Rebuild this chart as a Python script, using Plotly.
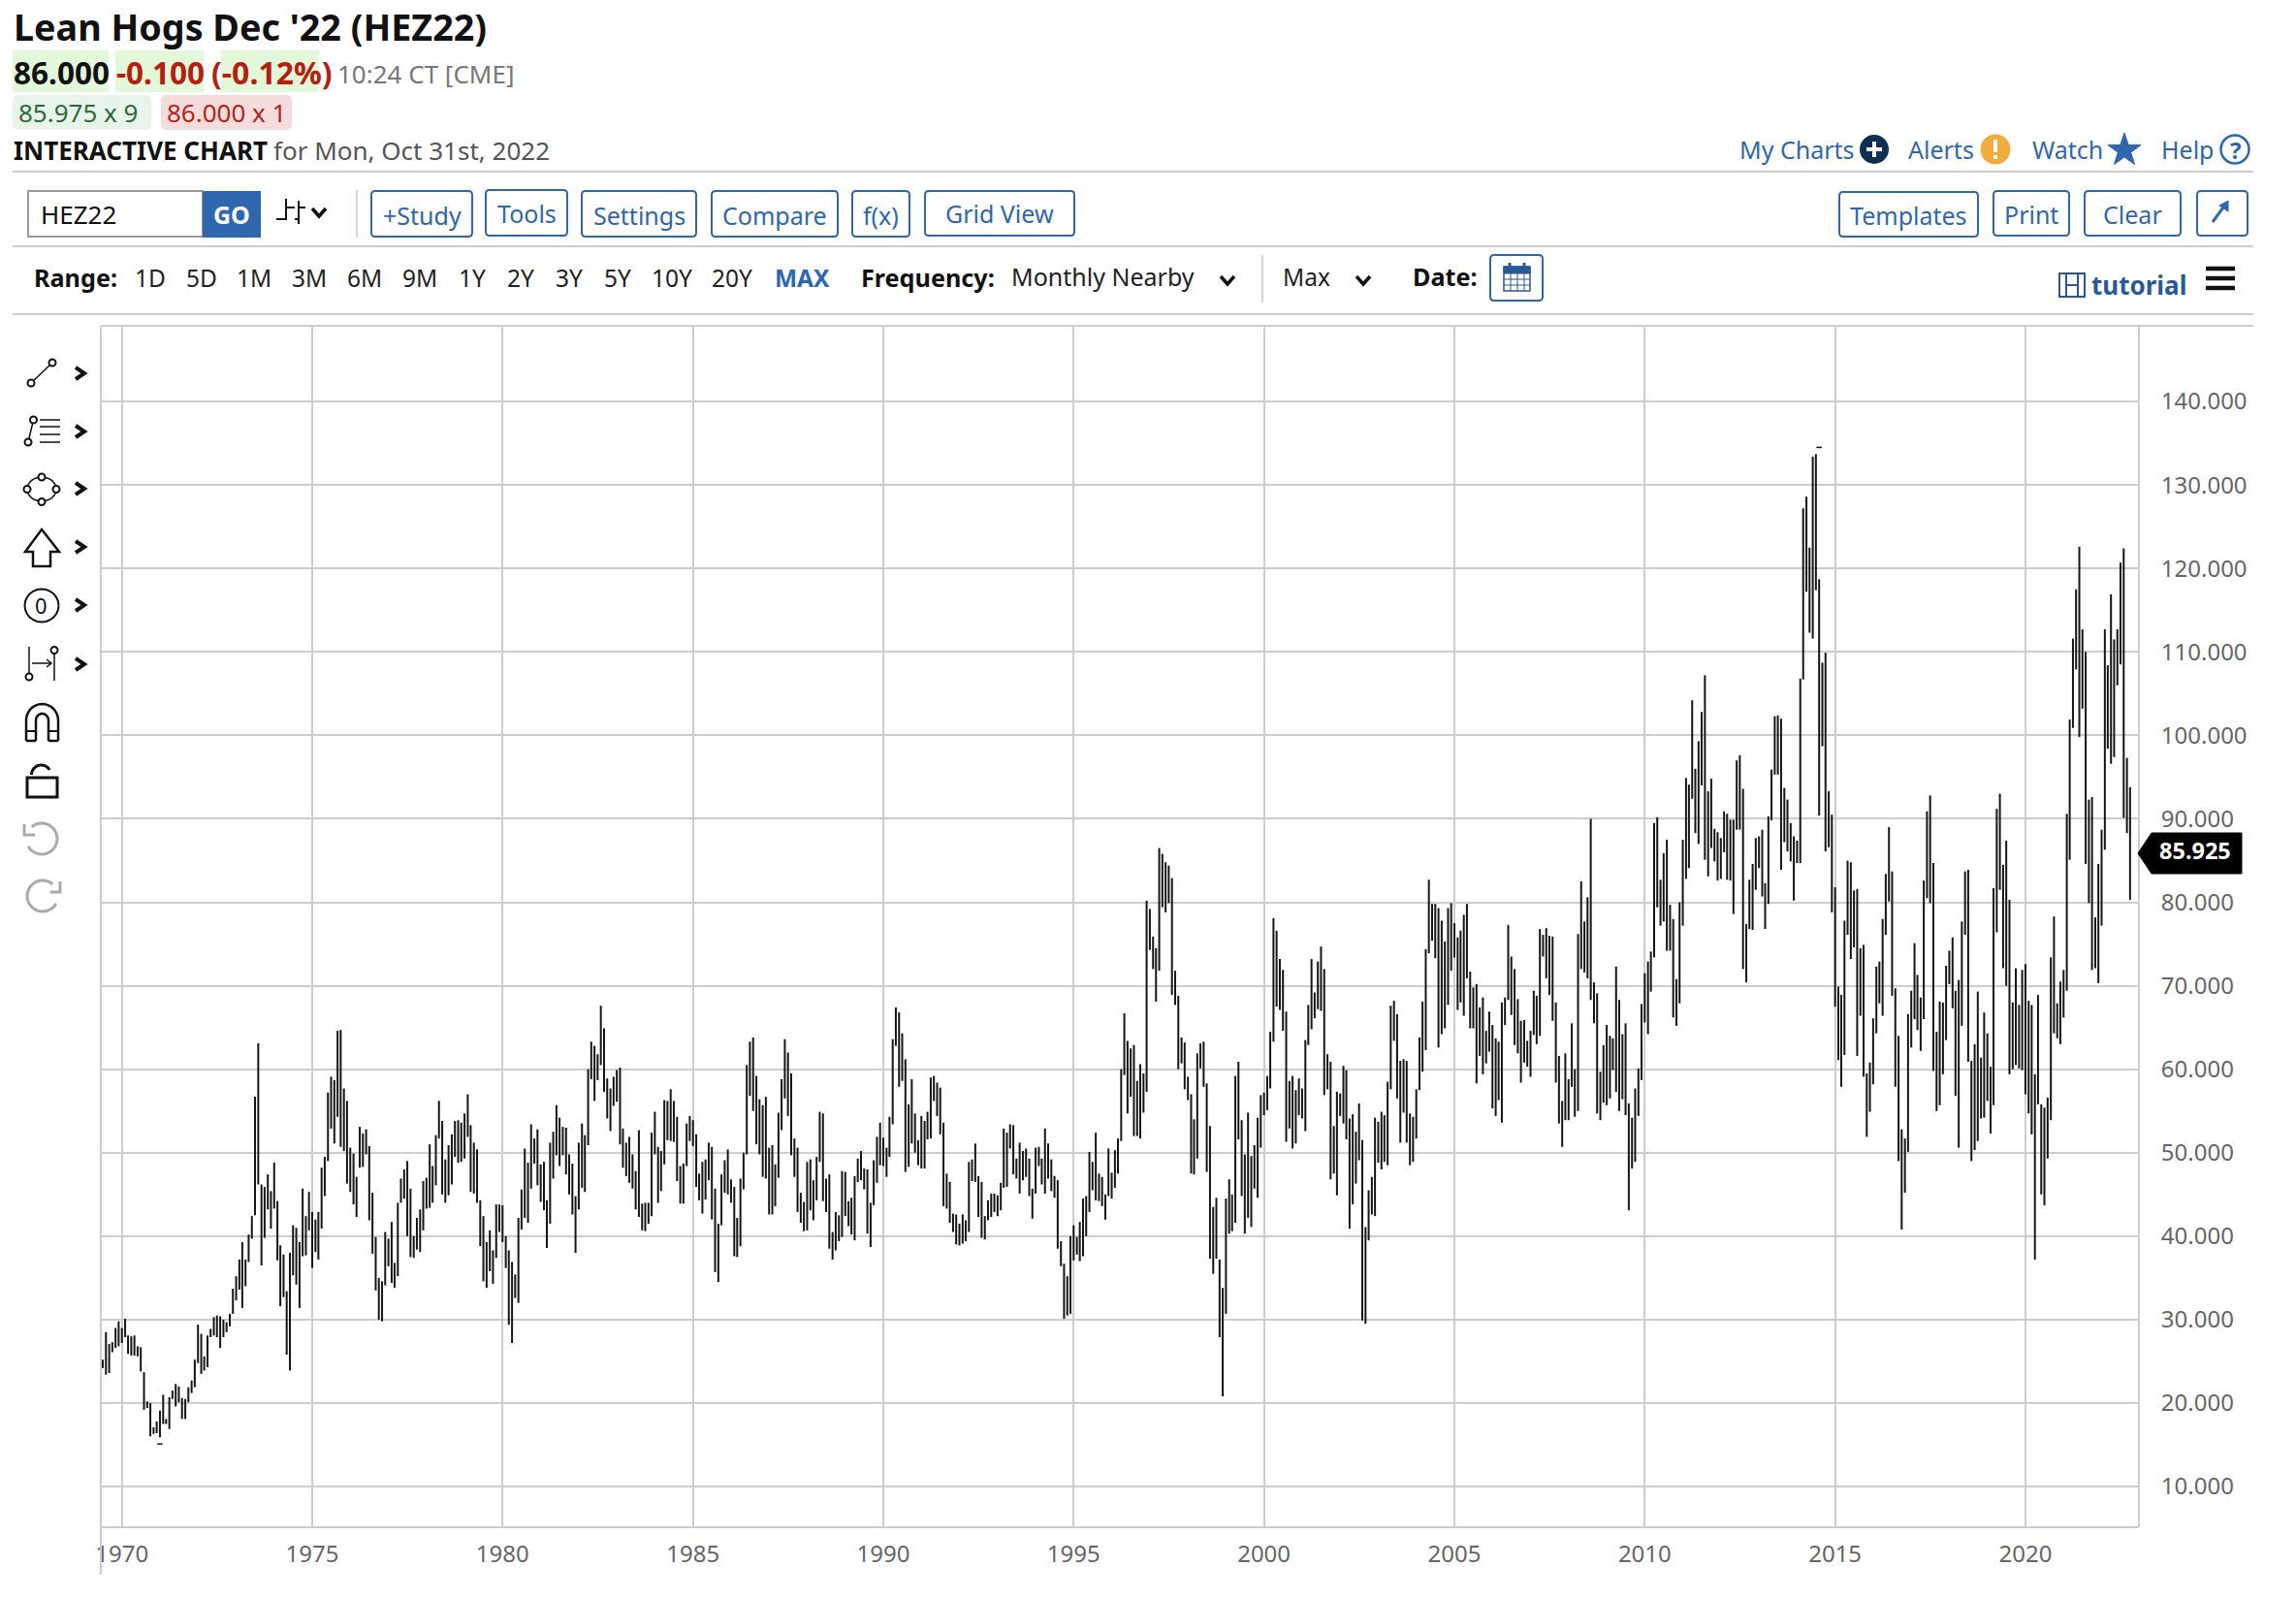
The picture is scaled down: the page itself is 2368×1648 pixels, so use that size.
import math

import pandas as pd
import plotly.graph_objects as go

# monthly high / low, one pair of lists per stretch of years
START_1969 = "1969-07-01"
HIGH_1969 = [
    25.2, 28.5, 27.1, 27.3, 29.0, 29.8, 29.0, 30.1, 28.1, 28.0, 28.1, 26.8, 26.7, 23.7, 20.2, 20.0, 17.1, 17.8,
    19.1, 21.0, 18.1, 20.7, 21.5, 22.3, 22.0, 20.6, 20.5, 21.9, 22.7, 25.2, 29.4, 28.3, 25.6, 28.1, 28.9, 30.3,
    30.5, 30.4, 30.0, 29.7, 30.7, 33.7, 35.2, 37.2, 39.3, 37.2, 40.2, 42.4, 56.7, 63.1, 46.2, 45.9, 47.4, 45.4,
    48.8, 44.2, 38.9, 37.8, 33.4, 38.0, 41.3, 41.0, 39.3, 45.7, 42.4, 45.3, 42.9, 42.0, 42.9, 48.2, 49.5, 57.2,
    59.1, 58.7, 64.6, 64.7, 57.7, 56.2, 50.6, 49.9, 47.1, 53.1, 52.3, 52.8, 50.8, 45.2, 39.9, 35.0, 34.6, 40.5,
    39.7, 41.7, 36.8, 44.0, 46.9, 48.0, 49.0, 45.7, 40.0, 42.2, 43.2, 46.6, 47.0, 51.0, 48.4, 52.1, 56.2,
]
LOW_1969 = [
    24.2, 23.4, 23.6, 26.1, 26.6, 26.8, 27.2, 27.9, 25.9, 25.7, 25.7, 25.6, 23.8, 19.2, 19.4, 16.0, 16.3, 16.4,
    15.9, 17.5, 17.5, 16.9, 20.5, 19.6, 20.1, 18.1, 18.1, 20.1, 21.2, 21.9, 24.8, 23.5, 23.9, 24.3, 27.9, 28.1,
    27.9, 26.6, 27.9, 28.5, 29.2, 30.7, 32.3, 33.6, 31.4, 34.0, 36.9, 39.7, 42.5, 46.2, 36.5, 39.8, 43.2, 40.9,
    43.3, 37.1, 31.6, 32.7, 25.8, 23.9, 35.3, 34.2, 31.4, 37.6, 37.7, 40.7, 36.2, 38.1, 37.2, 40.9, 44.8, 49.0,
    52.9, 51.1, 54.3, 50.7, 50.2, 46.3, 45.3, 43.8, 42.3, 48.2, 48.3, 49.8, 41.9, 37.9, 33.5, 30.0, 29.8, 34.1,
    36.4, 34.4, 33.8, 35.2, 44.0, 44.5, 40.0, 37.5, 37.4, 38.4, 38.1, 40.7, 43.3, 43.4, 44.0, 46.1, 51.7,
]

START_1978 = "1978-06-01"
HIGH_1978 = [
    53.8, 49.2, 50.9, 52.2, 53.8, 53.9, 53.6, 54.7, 57.0, 53.3, 51.2, 50.4, 44.3, 42.4, 39.3, 40.7, 38.3, 43.8,
    43.8, 43.7, 40.0, 38.3, 36.9, 35.4, 42.2, 45.6, 50.5, 48.8, 53.4, 51.7, 52.8, 48.6, 48.9, 44.3, 51.2, 52.5,
    55.7, 54.2, 53.1, 53.0, 49.8, 48.7, 44.8, 51.2, 53.5, 52.1, 60.0, 63.3, 62.8, 61.8, 67.6, 64.9, 58.9, 57.7,
    59.1, 59.9, 60.2, 52.9, 51.2, 51.9, 49.8, 47.8, 52.7, 43.9, 44.0, 44.0, 52.4, 54.9, 50.7, 50.2, 56.3, 56.2,
    57.6, 56.2, 54.3, 48.4, 48.7, 53.5, 54.4, 53.9, 52.2, 47.5, 48.9, 49.2, 51.2, 50.7, 45.7, 41.5, 47.4, 49.1,
    50.4, 46.8, 45.9, 42.2, 46.9, 50.0, 60.5, 63.3, 63.8, 59.2, 56.4, 55.7, 56.7, 50.6, 50.9, 48.6,
]
LOW_1978 = [
    45.0, 44.0, 44.9, 46.2, 49.5, 48.8, 48.9, 49.3, 51.9, 45.3, 45.1, 44.0, 38.8, 34.6, 33.8, 35.8, 34.3, 37.4,
    40.5, 39.3, 36.2, 29.4, 27.2, 32.6, 32.0, 40.8, 42.2, 41.6, 45.7, 48.7, 46.1, 44.1, 43.1, 38.6, 41.5, 46.9,
    49.7, 48.4, 49.7, 47.4, 45.0, 42.6, 38.0, 43.2, 45.8, 45.3, 50.9, 58.8, 56.2, 58.7, 60.5, 57.3, 54.1, 52.6,
    55.6, 56.1, 51.0, 48.2, 47.2, 46.4, 45.7, 43.2, 42.3, 40.7, 40.6, 41.5, 42.4, 49.8, 44.0, 45.4, 48.6, 51.5,
    51.4, 51.3, 46.6, 43.9, 43.9, 48.4, 51.4, 50.8, 45.9, 44.3, 42.7, 44.4, 46.7, 42.0, 35.7, 34.5, 41.3, 45.2,
    45.0, 44.0, 37.6, 37.5, 38.8, 45.6, 49.8, 56.8, 55.0, 51.0, 49.8, 47.1, 46.9, 42.6, 42.6, 43.6,
]

START_1987 = "1987-04-01"
HIGH_1987 = [
    54.8, 58.8, 63.6, 62.0, 59.5, 51.7, 50.6, 45.2, 44.1, 48.9, 49.2, 46.7, 49.5, 54.9, 54.7, 46.9, 47.4, 40.5,
    42.9, 42.5, 47.8, 47.7, 44.2, 44.6, 47.2, 49.3, 50.2, 48.1, 48.0, 44.0, 49.1, 51.9, 53.6, 51.8, 50.6, 54.3,
    63.6, 67.4, 66.8, 64.3, 61.2, 55.8, 58.8, 54.7, 51.5, 54.4, 53.8, 54.9, 59.0, 59.2, 58.4, 57.8, 53.6, 47.5,
    46.5, 42.7, 42.6, 41.5, 42.6, 41.9, 48.9, 49.2, 51.1, 47.2, 46.5, 42.4, 44.3, 45.1, 45.1, 44.9, 46.4, 52.9,
    52.4, 53.4, 53.3, 49.3, 51.2, 50.2, 50.5, 49.3, 45.7, 50.6, 50.7, 49.3, 52.9, 51.1, 49.2, 47.2, 46.7, 39.4,
    36.7, 35.2, 40.0, 41.3, 39.9, 41.7, 44.5, 44.8, 50.1, 48.9, 52.4, 47.5, 47.1, 45.0, 50.5,
]
LOW_1987 = [
    47.0, 52.7, 56.5, 54.4, 49.7, 47.1, 42.9, 41.6, 40.6, 40.7, 43.1, 41.9, 44.3, 48.9, 44.2, 42.9, 38.5, 37.2,
    38.3, 39.4, 39.9, 42.4, 41.2, 40.2, 39.5, 46.5, 46.7, 45.6, 40.3, 38.7, 43.7, 46.4, 48.5, 48.4, 47.1, 49.5,
    53.4, 62.8, 57.9, 58.6, 47.7, 48.3, 51.1, 50.0, 48.5, 48.1, 48.1, 51.6, 51.7, 56.2, 54.4, 52.2, 43.6, 43.3,
    41.6, 40.5, 39.0, 38.9, 39.1, 39.4, 40.5, 46.6, 46.5, 42.3, 39.8, 39.6, 41.9, 42.3, 42.9, 42.4, 43.1, 45.8,
    45.9, 50.5, 47.4, 46.9, 45.1, 46.7, 47.1, 44.8, 42.1, 45.1, 48.4, 46.2, 45.1, 46.9, 45.4, 44.6, 38.5, 36.4,
    30.1, 30.5, 30.7, 37.1, 37.8, 37.0, 37.6, 40.0, 42.9, 45.5, 44.3, 44.2, 43.6, 42.0, 44.8,
]

START_1996 = "1996-01-01"
HIGH_1996 = [
    47.6, 50.3, 51.7, 60.0, 66.7, 63.4, 62.5, 62.9, 58.6, 60.6, 59.5, 80.2, 79.2, 75.9, 74.5, 86.5, 85.8, 84.8,
    84.4, 82.9, 71.8, 68.8, 63.8, 63.2, 59.1, 57.0, 54.0, 61.9, 63.1, 63.3, 58.3, 53.2, 43.5, 44.6, 37.2, 33.8,
    44.5, 46.8, 45.0, 59.2, 60.9, 53.9, 49.8, 54.8, 49.6, 50.9, 54.2, 56.9, 57.2, 59.2, 64.5, 78.1, 76.6, 73.2,
    71.9, 66.9, 58.6, 59.2, 57.5, 58.9, 57.7, 63.5, 67.7, 73.2, 69.2, 72.9, 74.7, 72.0, 61.8, 60.9, 53.2, 57.3,
    57.1, 60.4, 59.9, 54.1, 54.6, 52.5, 55.9, 51.5, 41.1, 45.5, 47.1, 54.2, 53.7, 54.9, 54.5, 58.5, 67.6, 68.2,
    66.6, 61.0, 61.2, 61.0, 54.7, 54.3, 57.6, 63.8, 68.1, 74.4, 82.7, 79.8, 79.8, 79.3, 77.8, 75.3,
]
LOW_1996 = [
    44.5, 45.8, 47.5, 51.4, 59.3, 54.7, 56.7, 52.0, 52.0, 51.7, 54.8, 57.3, 74.3, 72.0, 68.1, 71.8, 79.4, 78.8,
    79.9, 68.9, 67.7, 60.0, 60.7, 57.6, 56.3, 47.5, 47.4, 49.3, 60.1, 57.9, 47.7, 37.3, 35.5, 37.3, 27.9, 20.8,
    30.7, 40.3, 40.6, 41.6, 51.6, 44.8, 40.3, 42.2, 41.1, 45.7, 44.6, 50.6, 54.5, 55.1, 57.7, 63.3, 67.5, 67.1,
    64.6, 51.3, 52.9, 50.5, 51.1, 54.5, 54.1, 52.6, 62.9, 64.8, 66.1, 67.2, 67.0, 56.9, 57.6, 46.8, 47.5, 44.9,
    54.4, 53.5, 51.6, 40.9, 43.8, 46.3, 49.1, 29.9, 29.5, 39.5, 42.6, 42.4, 48.8, 48.0, 48.9, 48.5, 57.6, 63.4,
    56.5, 51.2, 54.8, 51.2, 48.5, 48.9, 51.7, 57.5, 59.7, 62.3, 73.9, 75.4, 73.3, 62.6, 64.2, 64.9,
]

START_2004 = "2004-11-01"
HIGH_2004 = [
    79.3, 79.9, 77.5, 75.8, 76.6, 78.5, 79.8, 71.7, 69.8, 70.2, 67.4, 68.6, 64.6, 66.9, 65.3, 63.7, 63.3, 68.0,
    68.6, 77.3, 73.5, 72.0, 68.4, 65.8, 65.9, 63.4, 64.6, 69.4, 68.8, 76.8, 76.1, 76.9, 76.0, 75.9, 68.0, 61.6,
    56.2, 61.9, 58.8, 65.5, 60.0, 76.2, 82.5, 77.7, 80.6, 90.0, 70.4, 69.1, 59.7, 62.9, 65.3, 64.0, 63.7, 72.3,
    68.3, 64.2, 65.5, 55.9, 54.2, 57.7, 60.1, 67.8, 71.5, 72.9, 74.1, 89.5, 90.2, 82.7, 85.9, 87.5, 79.7, 78.0,
    70.8, 80.0, 87.5, 94.9, 94.1, 104.2, 96.0, 99.3, 102.8, 107.2, 93.3, 94.8, 88.8, 88.4, 87.7, 90.9, 90.6, 89.9,
    89.9, 97.0, 97.6, 93.6, 77.4, 82.7, 84.6, 87.7, 87.9, 88.7, 82.3, 90.3, 95.9, 102.3, 102.4,
]
LOW_2004 = [
    67.7, 71.8, 73.4, 67.1, 68.0, 66.4, 70.9, 64.9, 64.9, 58.3, 61.6, 59.4, 60.7, 62.1, 55.3, 54.4, 56.3, 53.6,
    65.3, 68.3, 66.5, 62.9, 61.9, 58.4, 60.8, 60.3, 59.1, 64.1, 63.0, 64.0, 73.5, 70.9, 68.9, 65.8, 58.4, 53.5,
    50.7, 53.9, 53.9, 57.9, 54.3, 55.0, 72.0, 71.6, 70.9, 68.3, 65.5, 54.7, 53.9, 56.0, 55.7, 56.5, 59.9, 57.3,
    55.0, 56.4, 54.5, 43.1, 48.1, 48.9, 54.4, 58.7, 65.6, 64.2, 69.3, 73.4, 79.4, 77.2, 77.7, 74.2, 74.2, 66.2,
    65.2, 67.9, 77.2, 82.8, 84.1, 92.4, 88.3, 87.0, 94.0, 85.1, 83.1, 86.5, 84.9, 82.6, 82.8, 86.0, 82.7, 82.6,
    78.6, 88.7, 88.7, 72.0, 70.4, 76.8, 76.7, 81.5, 84.1, 80.7, 76.8, 79.8, 89.8, 95.3, 95.3,
]

START_2013 = "2013-08-01"
HIGH_2013 = [
    102.0, 93.7, 92.3, 89.5, 87.9, 87.4, 106.8, 127.2, 128.6, 122.5, 133.4, 133.7, 118.7, 108.7, 109.9, 93.3, 90.5,
    81.8, 69.9, 68.9, 77.8, 85.0, 84.8, 81.4, 81.6, 74.5, 74.9, 59.5, 60.8, 66.1, 72.3, 72.9, 78.0, 83.4, 89.0, 83.7,
    69.7, 64.0, 52.8, 51.7, 66.6, 69.4, 75.1, 71.3, 68.6, 82.6, 90.9, 92.8, 84.7, 64.5, 68.1, 68.0, 72.4, 74.2, 75.8,
    69.4, 70.7, 77.7, 83.7, 83.9, 61.0, 63.0, 69.3, 61.4, 66.8, 64.3, 60.3, 81.7, 91.2, 93.0, 84.5, 87.4, 80.3, 68.0,
    72.1, 67.7, 71.9, 72.6, 68.2, 67.7, 59.4, 68.9, 55.8, 55.4, 56.6, 73.4, 78.3, 67.9, 70.5, 71.9, 90.6, 101.9, 111.6,
    117.5, 122.6, 112.7, 110.0, 92.3, 92.6, 78.2, 84.6, 88.7, 112.7, 108.4, 116.9, 111.5, 112.7, 120.7, 122.4, 97.3,
    93.8,
]
LOW_2013 = [
    83.9, 87.2, 86.1, 84.9, 80.2, 84.7, 84.7, 106.7, 117.2, 112.3, 111.6, 117.4, 90.4, 98.7, 86.1, 86.6, 78.8,
    67.5, 61.1, 57.9, 61.7, 76.1, 73.2, 74.6, 61.6, 66.4, 59.1, 51.9, 54.9, 58.2, 64.3, 67.9, 66.4, 76.1, 80.1, 68.8,
    57.9, 49.0, 40.8, 45.2, 50.1, 62.6, 66.0, 64.7, 62.2, 66.0, 80.5, 79.9, 59.8, 55.0, 55.7, 59.4, 63.5, 70.2, 67.3,
    56.8, 50.6, 65.2, 76.1, 60.9, 49.0, 50.3, 51.4, 54.1, 54.2, 56.2, 52.3, 55.7, 76.4, 81.5, 72.1, 70.0, 59.4, 60.0,
    60.5, 60.1, 59.9, 57.0, 54.7, 52.2, 37.2, 55.8, 45.0, 43.7, 49.3, 53.9, 64.3, 63.7, 63.0, 66.2, 69.4, 85.1, 100.9,
    107.9, 99.8, 103.2, 84.6, 79.9, 71.9, 72.1, 70.3, 77.2, 86.3, 98.4, 96.6, 97.4, 106.0, 108.5, 90.1, 88.3,
    80.3,
]

# the two lone dashes just past the extremes
STRAY_DATES = ["1971-01-01", "2014-08-01"]
STRAY_VALUES = [15.1, 134.5]

LAST_PRICE = 85.925
YEAR_TICKS = list(range(1970, 2021, 5))
PRICE_TICKS = list(range(10, 150, 10))
RANGE_LABELS = ["1D", "5D", "1M", "3M", "6M", "9M", "1Y", "2Y", "3Y", "5Y", "10Y", "20Y"]
RANGE_CENTERS = [155, 208, 262, 319, 376, 433, 487, 537, 587, 637, 693, 755]

FIG_W = 2368
FIG_H = 1648
FONT = "Noto Sans"
BLUE = "#2e67ad"
GRID = "#cdcdcd"
BAR_COLOR = "#151515"


def px_x(x):
    return x / FIG_W


def px_y(y):
    return 1 - y / FIG_H


shapes = []
notes = []


def line(x0, y0, x1, y1, color=GRID, width=2):
    shapes.append(dict(type="line", xref="paper", yref="paper", x0=px_x(x0), y0=px_y(y0), x1=px_x(x1), y1=px_y(y1),
                       line=dict(color=color, width=width)))


def box(x0, y0, x1, y1, fill="rgba(0,0,0,0)", color="rgba(0,0,0,0)", width=0, below=False):
    shapes.append(dict(type="rect", xref="paper", yref="paper", x0=px_x(x0), y0=px_y(y0), x1=px_x(x1), y1=px_y(y1),
                       fillcolor=fill, line=dict(color=color, width=width), layer="below" if below else "above"))


def circle(cx, cy, r, fill="rgba(0,0,0,0)", color="#111111", width=2):
    shapes.append(dict(type="circle", xref="paper", yref="paper", x0=px_x(cx - r), y0=px_y(cy - r), x1=px_x(cx + r),
                       y1=px_y(cy + r), fillcolor=fill, line=dict(color=color, width=width)))


def poly(points, fill="rgba(0,0,0,0)", color="#111111", width=2, closed=True):
    d = "M" + " L".join(f"{px_x(x):.5f},{px_y(y):.5f}" for x, y in points) + (" Z" if closed else "")
    shapes.append(dict(type="path", xref="paper", yref="paper", path=d, fillcolor=fill,
                       line=dict(color=color, width=width)))


def arc(cx, cy, rx, ry, start, stop, color="#111111", width=2):
    steps = 24
    pts = []
    for i in range(steps + 1):
        a = math.radians(start + (stop - start) * i / steps)
        pts.append((cx + rx * math.cos(a), cy + ry * math.sin(a)))
    poly(pts, color=color, width=width, closed=False)


def rounded(x0, y0, x1, y1, r=4, color=BLUE, width=2, fill="rgba(0,0,0,0)"):
    xa, xb, ya, yb = px_x(x0), px_x(x1), px_y(y0), px_y(y1)
    rx, ry = r / FIG_W, r / FIG_H
    d = (f"M{xa + rx:.5f},{ya:.5f} L{xb - rx:.5f},{ya:.5f} Q{xb:.5f},{ya:.5f} {xb:.5f},{ya - ry:.5f} "
         f"L{xb:.5f},{yb + ry:.5f} Q{xb:.5f},{yb:.5f} {xb - rx:.5f},{yb:.5f} L{xa + rx:.5f},{yb:.5f} "
         f"Q{xa:.5f},{yb:.5f} {xa:.5f},{yb + ry:.5f} L{xa:.5f},{ya - ry:.5f} Q{xa:.5f},{ya:.5f} {xa + rx:.5f},{ya:.5f} Z")
    shapes.append(dict(type="path", xref="paper", yref="paper", path=d, fillcolor=fill,
                       line=dict(color=color, width=width), layer="below"))


def label(text, x, y, size=25, color="#222222", bold=False, anchor="left"):
    notes.append(dict(text=f"<b>{text}</b>" if bold else text, xref="paper", yref="paper", x=px_x(x), y=px_y(y),
                      xanchor=anchor, yanchor="middle", showarrow=False, borderpad=0, borderwidth=0,
                      font=dict(family=FONT, size=size, color=color)))


def chevron_right(cx, cy):
    poly([(cx - 5, cy - 6), (cx + 4, cy), (cx - 5, cy + 6)], color="#111111", width=4, closed=False)


def chevron_down(cx, cy):
    poly([(cx - 7, cy - 4), (cx, cy + 4), (cx + 7, cy - 4)], color="#111111", width=3.5, closed=False)


# header
label("Lean Hogs Dec '22 (HEZ22)", 14, 28, size=37.7, color="#111111", bold=True)
box(13, 52, 112, 95, fill="#e3f8d8", below=True)
box(119, 52, 210, 95, fill="#e3f8d8", below=True)
box(228, 52, 329, 95, fill="#e3f8d8", below=True)
label("86.000", 14, 74, size=31.5, color="#111111", bold=True)
label("-0.100", 120, 74, size=31.5, color="#b3200f", bold=True)
label("(-0.12%)", 218, 74, size=32, color="#b3200f", bold=True)
label("10:24 CT [CME]", 348, 76, size=26, color="#777777")
rounded(13, 98, 156, 134, r=6, color="#e8f3ea", width=0, fill="#e8f3ea")
rounded(166, 98, 301, 134, r=6, color="#f5dcdc", width=0, fill="#f5dcdc")
label("85.975 x 9", 19, 116, size=26, color="#2e6b3a")
label("86.000 x 1", 172, 116, size=26, color="#b0271b")
label("INTERACTIVE CHART", 14, 155, size=26, color="#111111", bold=True)
label("for Mon, Oct 31st, 2022", 282, 155, size=26, color="#555555")

label("My Charts", 1794, 154, color=BLUE)
circle(1933, 154, 14, fill="#0f2f52", color="#0f2f52")
line(1925, 154, 1941, 154, color="white", width=4)
line(1933, 146, 1933, 162, color="white", width=4)
label("Alerts", 1968, 154, color=BLUE)
circle(2058, 154, 14.5, fill="#f0ad3e", color="#f0ad3e")
line(2058, 144, 2058, 157, color="white", width=4)
line(2058, 160, 2058, 164, color="white", width=4)
label("Watch", 2096, 154, color=BLUE)
poly([(2191 + (18 if i % 2 == 0 else 7) * math.cos(math.radians(-90 + 36 * i)),
       155 + (18 if i % 2 == 0 else 7) * math.sin(math.radians(-90 + 36 * i))) for i in range(10)],
     fill=BLUE, color=BLUE, width=1)
label("Help", 2229, 154, color=BLUE)
circle(2305, 154, 14.5, color=BLUE, width=2.5)
label("?", 2305, 154, size=24, color=BLUE, bold=True, anchor="center")

# rule lines between the toolbars
line(13, 177, 2324, 177)
line(13, 254, 2324, 254)
line(13, 324, 2324, 324)

# toolbar
box(29, 197, 209, 244, color="#999999", width=2)
label("HEZ22", 42, 221, size=26, color="#111111")
box(209, 197, 269, 245, fill=BLUE)
label("GO", 239, 221, size=25, color="white", bold=True, anchor="center")
line(295, 205, 295, 227, color="#111111", width=2)
line(285, 226, 295, 226, color="#111111", width=2)
line(295, 214, 304, 214, color="#111111", width=2)
line(308, 207, 308, 231, color="#111111", width=2)
line(304, 226, 308, 226, color="#111111", width=2)
line(308, 214, 315, 214, color="#111111", width=2)
chevron_down(329, 219)
line(368, 196, 368, 245, color="#d5d5d5")

BUTTONS = [
    ("+Study", 383, 487, 197, 244, 222),
    ("Tools", 501, 585, 196, 243, 220),
    ("Settings", 600, 718, 197, 244, 222),
    ("Compare", 734, 864, 197, 244, 222),
    ("f(x)", 879, 938, 197, 244, 222),
    ("Grid View", 954, 1108, 197, 243, 220),
    ("Templates", 1897, 2040, 198, 244, 222),
    ("Print", 2056, 2134, 197, 243, 221),
    ("Clear", 2150, 2249, 197, 243, 221),
]
for text, x0, x1, y0, y1, ty in BUTTONS:
    rounded(x0, y0, x1, y1)
    label(text, (x0 + x1) / 2, ty, color=BLUE, anchor="center")
rounded(2266, 197, 2318, 243)
line(2282, 229, 2295, 211, color=BLUE, width=3)
poly([(2298, 207), (2298, 218), (2289, 212)], fill=BLUE, color=BLUE, width=1)

# range row
label("Range:", 35, 286, size=25.2, color="#111111", bold=True)
for text, cx in zip(RANGE_LABELS, RANGE_CENTERS):
    label(text, cx, 287, size=24.5, color="#222222", anchor="center")
label("MAX", 827, 287, size=24.5, color=BLUE, bold=True, anchor="center")
label("Frequency:", 888, 286, size=25.2, color="#111111", bold=True)
label("Monthly Nearby", 1043, 285, size=25, color="#222222")
chevron_down(1266, 289)
line(1302, 263, 1302, 312, color="#d5d5d5")
label("Max", 1323, 285, size=24.5, color="#222222")
chevron_down(1406, 289)
label("Date:", 1457, 285, size=25.2, color="#111111", bold=True)
rounded(1537, 263, 1591, 310)
box(1551, 275, 1578, 300, color="#2a5a96", width=1.5)
box(1551, 275, 1578, 282, fill="#2a5a96", color="#2a5a96", width=1)
for gx in (1558, 1565, 1572):
    line(gx, 282, gx, 300, color="#2a5a96", width=1)
for gy in (288, 294):
    line(1551, gy, 1578, gy, color="#2a5a96", width=1)
line(1557, 271, 1557, 278, color="#2a5a96", width=3)
line(1572, 271, 1572, 278, color="#2a5a96", width=3)
box(2124, 282, 2150, 306, color="#2a5a96", width=2)
line(2131, 282, 2131, 306, color="#2a5a96", width=2)
line(2143, 282, 2143, 306, color="#2a5a96", width=2)
line(2131, 294, 2143, 294, color="#2a5a96", width=2)
label("tutorial", 2157, 294, size=26, color="#2a5a96", bold=True)
for gy in (277, 287, 297):
    line(2275, gy, 2305, gy, color="#111111", width=4.5)

# drawing tools down the left
line(32, 395, 54, 374, color="#111111", width=1.5)
circle(32, 395, 3.5, fill="white")
circle(54, 374, 3.5, fill="white")
chevron_right(83, 385)
line(29, 456, 34.5, 433, color="#111111", width=1.5)
circle(29, 456, 3.5, fill="white")
circle(34.5, 433, 3.5, fill="white")
for gy in (433, 440, 448, 456):
    line(41, gy, 62, gy, color="#111111", width=1.5)
chevron_right(83, 445)
arc(43, 504.5, 15, 12.5, 0, 360, width=1.5)
for cx, cy in ((28, 504.5), (43, 492), (58, 504.5), (43, 517.5)):
    circle(cx, cy, 3.5, fill="white")
chevron_right(83, 504)
poly([(43, 546), (61, 569), (52, 569), (52, 584), (34, 584), (34, 569), (26, 569)], width=2.5)
chevron_right(83, 564)
arc(43, 624.5, 17.5, 17, 0, 360, width=2)
label("0", 43, 624, size=22, color="#111111", anchor="center")
chevron_right(83, 624)
line(30, 667, 30, 695, color="#111111", width=1.5)
circle(30, 698, 3.5, fill="white")
line(33, 684, 53, 684, color="#111111", width=1.5)
poly([(48, 680), (53, 684), (48, 688)], width=1.5, closed=False)
line(56, 674, 56, 702, color="#111111", width=1.5)
circle(56, 670.5, 3.5, fill="white")
chevron_right(83, 685)
arc(43.5, 743, 16.5, 17, 180, 360, width=2.5)
arc(43.5, 743, 6.5, 7, 180, 360, width=2.5)
line(27, 743, 27, 764, color="#111111", width=2.5)
line(60, 743, 60, 764, color="#111111", width=2.5)
line(37, 743, 37, 764, color="#111111", width=2.5)
line(50, 743, 50, 764, color="#111111", width=2.5)
line(27, 764, 37, 764, color="#111111", width=2.5)
line(50, 764, 60, 764, color="#111111", width=2.5)
line(27, 754, 37, 754, color="#111111", width=2)
line(50, 754, 60, 754, color="#111111", width=2)
box(28, 802, 59, 822, color="#111111", width=3)
arc(42.5, 799, 10, 10, 180, 330, width=3)
arc(43, 865, 16, 16, -130, 150, color="#aaaaaa", width=3)
poly([(25, 850), (25, 861), (36, 861)], color="#aaaaaa", width=3, closed=False)
arc(44, 924, 16, 16, -50, -330, color="#aaaaaa", width=3)
poly([(62, 909), (62, 920), (52, 920)], color="#aaaaaa", width=3, closed=False)

# frame around the plot, on top of the first year label as in the page
line(104, 336, 2324, 336)
line(104, 336, 104, 1624)
line(2206, 336, 2206, 1575)
line(104, 1575, 2206, 1575)

# last price flag
poly([(2205, 880), (2219, 859), (2312, 859), (2312, 901), (2219, 901)], fill="black", color="black", width=1)
notes.append(dict(text=f"<b>{LAST_PRICE:.3f}</b>", xref="paper", yref="y", x=px_x(2264), y=LAST_PRICE, yshift=3,
                  xanchor="center", yanchor="middle", showarrow=False,
                  font=dict(family=FONT, size=23.5, color="white")))

bar_x = []
bar_y = []
for start, highs, lows in (
    (START_1969, HIGH_1969, LOW_1969),
    (START_1978, HIGH_1978, LOW_1978),
    (START_1987, HIGH_1987, LOW_1987),
    (START_1996, HIGH_1996, LOW_1996),
    (START_2004, HIGH_2004, LOW_2004),
    (START_2013, HIGH_2013, LOW_2013),
):
    months = pd.date_range(start, periods=len(highs), freq="MS")
    for month, high, low in zip(months, highs, lows):
        bar_x += [month, month, None]
        bar_y += [high, low, None]

fig = go.Figure()
fig.add_trace(go.Scatter(x=bar_x, y=bar_y, mode="lines", line=dict(color=BAR_COLOR, width=2), showlegend=False,
                         connectgaps=False, name="HEZ22"))
fig.add_trace(go.Scatter(x=STRAY_DATES, y=STRAY_VALUES, mode="markers", showlegend=False,
                         marker=dict(symbol="line-ew", size=4, line=dict(color=BAR_COLOR, width=1.5))))

fig.update_layout(
    width=FIG_W,
    height=FIG_H,
    margin=dict(l=0, r=0, t=0, b=0),
    paper_bgcolor="white",
    plot_bgcolor="white",
    showlegend=False,
    shapes=shapes,
    annotations=notes,
    font=dict(family=FONT),
    xaxis=dict(
        type="date",
        automargin=False,
        domain=[px_x(104), px_x(2206)],
        range=["1969-06-13", "2022-12-25"],
        tickvals=[f"{year}-01-01" for year in YEAR_TICKS],
        ticktext=[str(year) for year in YEAR_TICKS],
        ticks="outside",
        ticklen=6,
        tickcolor="rgba(0,0,0,0)",
        showgrid=True,
        gridcolor=GRID,
        gridwidth=2,
        zeroline=False,
        showline=False,
        tickfont=dict(family=FONT, size=24, color="#666666"),
    ),
    yaxis=dict(
        automargin=False,
        domain=[px_y(1575), px_y(336)],
        range=[5.13, 149.07],
        side="right",
        tickvals=PRICE_TICKS,
        tickformat=".3f",
        ticks="outside",
        ticklen=17,
        tickcolor="rgba(0,0,0,0)",
        showgrid=True,
        gridcolor=GRID,
        gridwidth=2,
        zeroline=False,
        showline=False,
        tickfont=dict(family=FONT, size=24, color="#666666"),
    ),
)

fig.write_html("out.html", config={"displayModeBar": False}, post_script="document.body.style.margin='0';")
